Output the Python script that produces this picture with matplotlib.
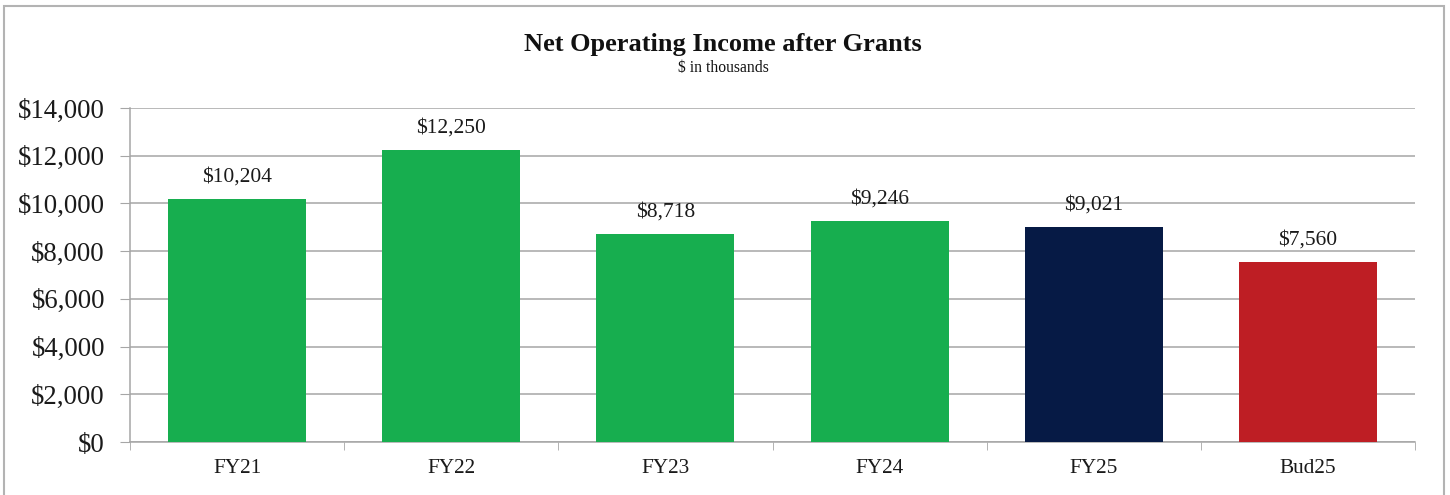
import matplotlib
matplotlib.use("Agg")
import matplotlib.pyplot as plt
from matplotlib.patches import Rectangle
from matplotlib.ticker import FuncFormatter

categories = ["FY21", "FY22", "FY23", "FY24", "FY25", "Bud25"]
values = [10204, 12250, 8718, 9246, 9021, 7560]
bar_colors = ["#17AE4F", "#17AE4F", "#17AE4F", "#17AE4F", "#061A45", "#BE1E24"]
yticks = [0, 2000, 4000, 6000, 8000, 10000, 12000, 14000]

plt.rcParams['font.family'] = ['Liberation Serif', 'DejaVu Serif']

fig = plt.figure(figsize=(14.5, 4.95), dpi=100)
ax = fig.add_axes([130/1450, 1-442/495, (1415-130)/1450, (442-108)/495])

x = list(range(len(categories)))
ax.bar(x, values, width=0.645, color=bar_colors, zorder=3)
for xi, v in zip(x, values):
    ax.annotate(f"${v:,}", (xi, v), xytext=(0, 9), textcoords="offset points",
                ha="center", va="bottom", fontsize=15.5, color="#1a1a1a")

ax.set_xlim(-0.5, len(categories) - 0.5)
ax.set_ylim(0, 14000)
ax.set_yticks(yticks)
ax.yaxis.set_major_formatter(FuncFormatter(lambda v, p: f"${int(v):,}"))
ax.set_xticks(x)
ax.set_xticklabels(categories)
ax.set_xticks([i - 0.5 for i in range(len(categories) + 1)], minor=True)
ax.tick_params(axis="x", which="major", length=0, pad=12, labelsize=15.3, labelcolor="#1a1a1a")
ax.tick_params(axis="x", which="minor", length=6, color="#A6A6A6", direction="out")
ax.tick_params(axis="y", length=7, color="#A6A6A6", labelsize=19.3, labelcolor="#1a1a1a", pad=11)

ax.grid(axis="y", color="#A6A6A6", linewidth=1.1, zorder=0)
for s in ["top", "right"]:
    ax.spines[s].set_visible(False)
for s in ["left", "bottom"]:
    ax.spines[s].set_color("#A6A6A6")
    ax.spines[s].set_linewidth(1.1)

fig.text(0.4986, 1-44/495, "Net Operating Income after Grants", ha="center", va="center",
         fontsize=19, fontweight="bold", color="#111111")
fig.text(0.4986, 1-68/495, "$ in thousands", ha="center", va="center",
         fontsize=11.3, color="#111111")

fig.patches.append(Rectangle((4/1450, -0.05), (1444-4)/1450, 0.05 + 1-6/495,
                             transform=fig.transFigure, fill=False,
                             edgecolor="#B3B3B3", linewidth=1.5))

fig.savefig("out.png", dpi=100, facecolor="white")
